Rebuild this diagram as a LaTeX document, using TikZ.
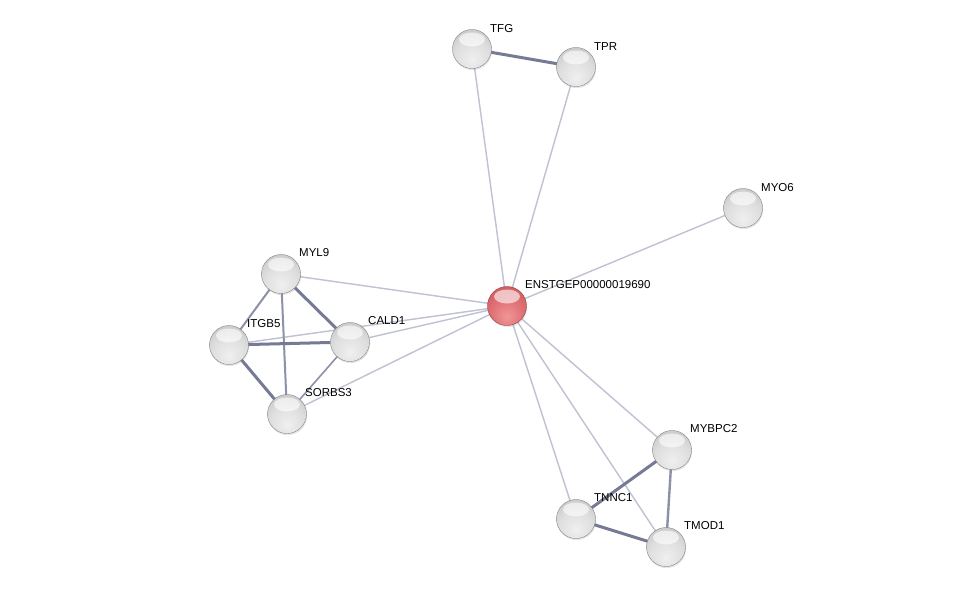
\documentclass[tikz,border=0pt]{standalone}
\usepackage{fontspec}
\setmainfont{Liberation Sans}
\usetikzlibrary{shadows}
\pgfdeclareradialshading{sphgray}{\pgfpoint{0bp}{-14bp}}{%
  color(0bp)=(black!6); color(22bp)=(black!13); color(42bp)=(black!25);
  color(56bp)=(black!42); color(66bp)=(black!62); color(100bp)=(black!62)}
\definecolor{hubA}{RGB}{240,150,152}
\definecolor{hubB}{RGB}{222,110,114}
\definecolor{hubC}{RGB}{196,82,88}
\definecolor{hubD}{RGB}{140,45,50}
\pgfdeclareradialshading{sphred}{\pgfpoint{0bp}{-14bp}}{%
  color(0bp)=(hubA); color(22bp)=(hubB); color(44bp)=(hubC);
  color(58bp)=(hubC); color(66bp)=(hubD); color(100bp)=(hubD)}
\begin{document}
\begin{tikzpicture}[x=1pt,y=-1pt,
  glint/.style={path picture={\fill[white,opacity=0.6] ([yshift=9.5pt]path picture bounding box.center) ellipse [x radius=13pt, y radius=7pt];}},
  prot/.style={circle,minimum size=39pt,inner sep=0pt,shading=sphgray,draw=black!55,line width=0.3pt,glint,
    drop shadow={opacity=0.2,shadow xshift=0.6pt,shadow yshift=-1.6pt}},
  hub/.style={circle,minimum size=39pt,inner sep=0pt,shading=sphred,draw=hubD,line width=0.3pt,glint,
    drop shadow={opacity=0.2,shadow xshift=0.6pt,shadow yshift=-1.6pt}},
  lbl/.style={anchor=south west,inner sep=0pt,font=\fontsize{11.5}{12}\selectfont},
  weak/.style={draw={rgb,255:red,190;green,194;blue,210},line width=1.4pt},
  mid/.style={draw={rgb,255:red,140;green,145;blue,168},line width=2pt},
  strong/.style={draw={rgb,255:red,118;green,122;blue,148},line width=3pt}]
\useasboundingbox (0,0) rectangle (976,592);
\fill[white] (0,0) rectangle (976,592);
% positions
\coordinate (pTFG) at (472,49);
\coordinate (pTPR) at (576,67);
\coordinate (pMYO) at (743,208);
\coordinate (pHUB) at (507,306);
\coordinate (pMYL) at (281,274);
\coordinate (pITG) at (229,345);
\coordinate (pCAL) at (350,342);
\coordinate (pSOR) at (287,414);
\coordinate (pMYB) at (672,450);
\coordinate (pTNN) at (576,519);
\coordinate (pTMO) at (666,547);
% edges
\draw[weak] (pHUB) -- (pTFG);
\draw[weak] (pHUB) -- (pTPR);
\draw[weak] (pHUB) -- (pMYO);
\draw[weak] (pHUB) -- (pMYL);
\draw[weak] (pHUB) -- (pCAL);
\draw[weak] (pHUB) -- (pITG);
\draw[weak] (pHUB) -- (pSOR);
\draw[weak] (pHUB) -- (pMYB);
\draw[weak] (pHUB) -- (pTNN);
\draw[weak] (pHUB) -- (pTMO);
\draw[strong] (pTFG) -- (pTPR);
\draw[mid] (pMYL) -- (pITG);
\draw[strong] (pMYL) -- (pCAL);
\draw[mid] (pMYL) -- (pSOR);
\draw[strong] (pITG) -- (pCAL);
\draw[strong] (pITG) -- (pSOR);
\draw[mid,line width=1.6pt] (pCAL) -- (pSOR);
\draw[strong] (pMYB) -- (pTNN);
\draw[mid,line width=2.4pt] (pMYB) -- (pTMO);
\draw[strong] (pTNN) -- (pTMO);
% nodes
\node[prot] (TFG) at (pTFG) {};
\node[prot] (TPR) at (pTPR) {};
\node[prot] (MYO) at (pMYO) {};
\node[prot] (MYL) at (pMYL) {};
\node[prot] (ITG) at (pITG) {};
\node[prot] (CAL) at (pCAL) {};
\node[prot] (SOR) at (pSOR) {};
\node[prot] (MYB) at (pMYB) {};
\node[prot] (TNN) at (pTNN) {};
\node[prot] (TMO) at (pTMO) {};
\node[hub] (HUB) at (pHUB) {};
% labels
\node[lbl] at (490,33) {TFG};
\node[lbl] at (594,51) {TPR};
\node[lbl] at (761,192) {MYO6};
\node[lbl] at (525,289) {ENSTGEP00000019690};
\node[lbl] at (299,257) {MYL9};
\node[lbl] at (247,328) {ITGB5};
\node[lbl] at (368,325) {CALD1};
\node[lbl] at (305,397) {SORBS3};
\node[lbl] at (690,433) {MYBPC2};
\node[lbl] at (594,502) {TNNC1};
\node[lbl] at (684,530) {TMOD1};
\end{tikzpicture}
\end{document}
